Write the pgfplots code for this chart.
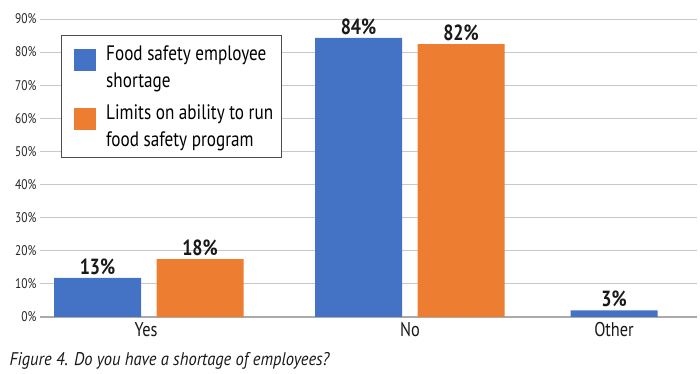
\documentclass[border=0pt]{standalone}
\usepackage{pgfplots}
\pgfplotsset{compat=1.18}
\usepackage{fontspec}
\setmainfont[FakeStretch=0.82]{PT Sans}
\newfontfamily\capfont[FakeStretch=0.9]{PT Sans}
\definecolor{sblue}{HTML}{4472C4}
\definecolor{sorange}{HTML}{ED7D31}
\definecolor{gridc}{HTML}{C8C8C8}
\begin{document}
\begin{tikzpicture}
\begin{axis}[
  name=ax,
  scale only axis, width=657bp, height=298bp,
  xmin=40, xmax=697, ymin=0, ymax=90,
  axis x line*=bottom, axis y line*=left,
  y axis line style={draw=none},
  x axis line style={draw=gridc!85!black, line width=1.3pt},
  ymajorgrids, grid style={gridc, line width=0.9pt},
  ytick={0,10,...,90},
  yticklabel={\pgfmathprintnumber{\tick}\%},
  /pgf/number format/assume math mode=true,
  yticklabel style={font=\fontsize{14}{16}\selectfont, color=black!85},
  xtick={146,410,614}, xticklabels={Yes,No,Other},
  xticklabel style={font=\fontsize{20}{22}\selectfont, color=black!90, yshift=-2bp},
  major tick length=0pt,
  legend style={at={(axis description cs:0.032,0.946)}, anchor=north west,
    draw=black!70, line width=0.8pt, font=\fontsize{21}{27}\selectfont,
    cells={align=left}, row sep=12bp, inner xsep=6bp, inner ysep=8bp},
  legend cell align=left,
  nodes near coords style={font=\bfseries\fontsize{22}{24}\selectfont, color=black!90},
]
\addplot[ybar, bar width=87, bar shift=0pt, fill=sblue, draw=none, forget plot,
  nodes near coords, point meta=explicit symbolic]
  coordinates {(97.5,11.8)[13\%] (358.5,84.3)[84\%] (614,2.0)[3\%]};
\addplot[ybar, bar width=87, bar shift=0pt, fill=sorange, draw=none, forget plot,
  nodes near coords, point meta=explicit symbolic]
  coordinates {(200,17.5)[18\%] (461,82.4)[82\%]};
\addlegendimage{legend image code/.code={\fill[sblue] (7bp,-3bp) rectangle (28bp,18bp);\path (0bp,0bp) (36bp,0bp);}}
\addlegendentry{Food safety employee\\shortage}
\addlegendimage{legend image code/.code={\fill[sorange] (7bp,-3bp) rectangle (28bp,18bp);\path (0bp,0bp) (36bp,0bp);}}
\addlegendentry{Limits on ability to run\\food safety program}
\end{axis}
\node[anchor=base west, font=\capfont\itshape\fontsize{18.4}{22}\selectfont, color=black!90]
  at ([xshift=-34bp,yshift=-48bp]ax.south west) {Figure 4. Do you have a shortage of employees?};
\pgfresetboundingbox
\path ([xshift=-40bp,yshift=-57bp]ax.south west) rectangle ([xshift=3bp,yshift=19bp]ax.north east);
\end{tikzpicture}
\end{document}
